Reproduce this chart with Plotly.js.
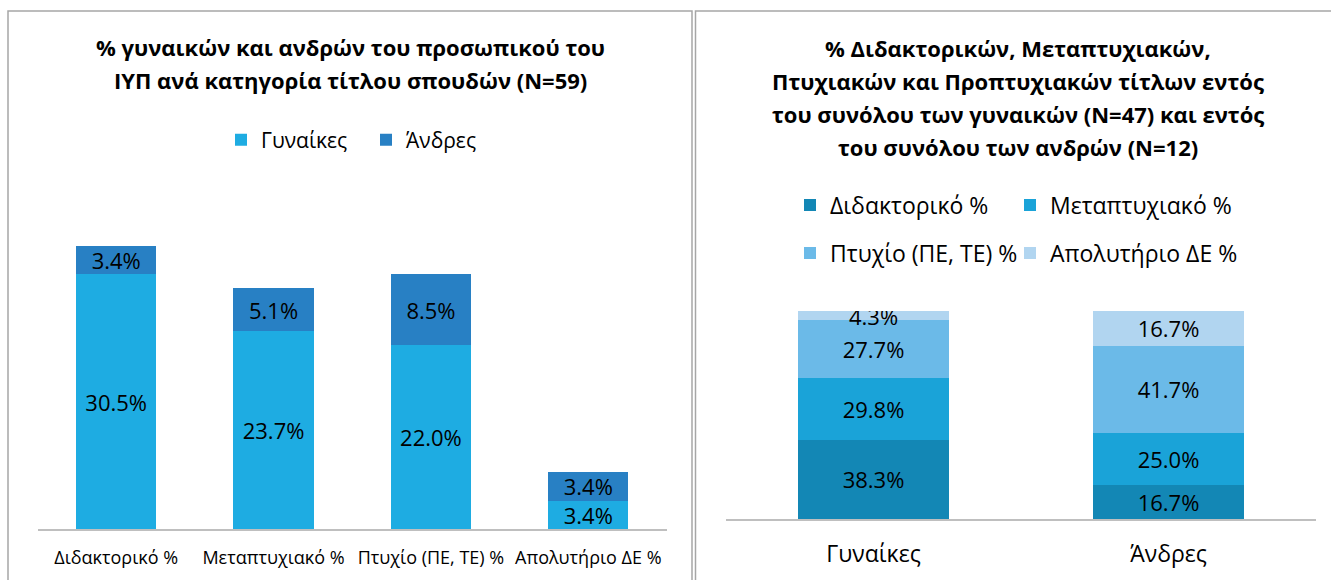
<!DOCTYPE html>
<html>
<head>
<meta charset="utf-8">
<script src="https://cdn.plot.ly/plotly-3.0.1.min.js"></script>
<style>html,body{margin:0;padding:0;background:#fff;}#chart{width:1331px;height:580px;}</style>
</head>
<body>
<div id="chart"></div>
<script>
// Left chart data
const titleCategories = ['Διδακτορικό %', 'Μεταπτυχιακό %', 'Πτυχίο (ΠΕ, ΤΕ) %', 'Απολυτήριο ΔΕ %'];
const womenShare = [30.5, 23.7, 22.0, 3.4];
const menShare = [3.4, 5.1, 8.5, 3.4];

// Right chart data
const genderGroups = ['Γυναίκες', 'Άνδρες'];
const phdPct = [38.3, 16.7];
const mscPct = [29.8, 25.0];
const bscPct = [27.7, 41.7];
const schoolPct = [4.3, 16.7];

const leftTitle = ['% γυναικών και ανδρών του προσωπικού του', 'ΙΥΠ ανά κατηγορία τίτλου σπουδών (N=59)'];
const rightTitle = ['% Διδακτορικών, Μεταπτυχιακών,', 'Πτυχιακών και Προπτυχιακών τίτλων εντός', 'του συνόλου των γυναικών (N=47) και εντός', 'του συνόλου των ανδρών (N=12)'];

const W = 1331, H = 580;
const X = p => p / W;
const Y = p => 1 - p / H;
const FONT = 'Open Sans, Noto Sans, sans-serif';

function barTrace(name, x, y, color, xa, ya, legend) {
  return {
    type: 'bar', name: name, x: x, y: y,
    xaxis: xa, yaxis: ya, legend: legend,
    marker: {color: color, line: {width: 0}},
    text: y.map(v => v.toFixed(1) + '%'),
    textposition: 'inside', insidetextanchor: 'middle',
    textangle: 0, constraintext: 'none',
    textfont: {family: FONT, size: 22, color: '#000'},
    hoverinfo: 'skip'
  };
}

const data = [
  barTrace('Γυναίκες', titleCategories, womenShare, '#1EACE2', 'x', 'y', 'legend'),
  barTrace('Άνδρες', titleCategories, menShare, '#2880C4', 'x', 'y', 'legend'),
  barTrace('Διδακτορικό %', genderGroups, phdPct, '#1387B5', 'x2', 'y2', 'legend2'),
  barTrace('Μεταπτυχιακό %', genderGroups, mscPct, '#1AA3D8', 'x2', 'y2', 'legend3'),
  barTrace('Πτυχίο (ΠΕ, ΤΕ) %', genderGroups, bscPct, '#6BBAE8', 'x2', 'y2', 'legend4'),
  barTrace('Απολυτήριο ΔΕ %', genderGroups, schoolPct, '#B1D5F0', 'x2', 'y2', 'legend5')
];

const annotations = [];
leftTitle.forEach((t, i) => annotations.push({
  text: '<b>' + t + '</b>', xref: 'paper', yref: 'paper', x: X(350), y: Y(47 + 33 * i),
  xanchor: 'center', yanchor: 'middle', showarrow: false,
  font: {family: FONT, size: 22, color: '#000'}
}));
rightTitle.forEach((t, i) => annotations.push({
  text: '<b>' + t + '</b>', xref: 'paper', yref: 'paper', x: X(1018), y: Y(48 + 33 * i),
  xanchor: 'center', yanchor: 'middle', showarrow: false,
  font: {family: FONT, size: 22, color: '#000'}
}));

const legendBase = {
  orientation: 'h', bgcolor: 'rgba(0,0,0,0)', borderwidth: 0,
  traceorder: 'normal', xanchor: 'left', yanchor: 'middle'
};
const rightLegendFont = {family: FONT, size: 23, color: '#000'};

const layout = {
  width: W, height: H,
  margin: {l: 0, r: 0, t: 0, b: 0},
  paper_bgcolor: '#fff', plot_bgcolor: 'rgba(0,0,0,0)',
  barmode: 'stack', bargap: 0.49,
  font: {family: FONT, color: '#000'},
  xaxis: {
    domain: [X(37.5), X(667)], anchor: 'y', showline: true, linecolor: '#BFBFBF', linewidth: 1.5,
    ticks: 'outside', ticklen: 12, tickcolor: 'rgba(0,0,0,0)', showgrid: false, zeroline: false,
    tickfont: {family: FONT, size: 18, color: '#000'}, fixedrange: true
  },
  yaxis: {
    domain: [Y(529), Y(194.6)], anchor: 'x', range: [0, 40], visible: false, fixedrange: true
  },
  xaxis2: {
    domain: [X(726), X(1316)], anchor: 'y2', showline: true, linecolor: '#BFBFBF', linewidth: 1.5,
    ticks: 'outside', ticklen: 14, tickcolor: 'rgba(0,0,0,0)', showgrid: false, zeroline: false,
    tickfont: {family: FONT, size: 23, color: '#000'}, fixedrange: true
  },
  yaxis2: {
    domain: [Y(519.3), Y(311.1)], anchor: 'x2', range: [0, 100.1], visible: false, fixedrange: true
  },
  legend: Object.assign({}, legendBase, {x: X(221), y: Y(140), entrywidth: 100,
    font: {family: FONT, size: 21, color: '#000'}}),
  legend2: Object.assign({}, legendBase, {x: X(790), y: Y(205), font: rightLegendFont}),
  legend3: Object.assign({}, legendBase, {x: X(1010), y: Y(205), font: rightLegendFont}),
  legend4: Object.assign({}, legendBase, {x: X(790), y: Y(253), font: rightLegendFont}),
  legend5: Object.assign({}, legendBase, {x: X(1010), y: Y(253), font: rightLegendFont}),
  annotations: annotations,
  shapes: [
    {type: 'rect', xref: 'paper', yref: 'paper', x0: X(8), x1: X(692), y0: Y(600), y1: Y(11),
     line: {color: '#A6A6A6', width: 1.5}, fillcolor: 'rgba(0,0,0,0)'},
    {type: 'rect', xref: 'paper', yref: 'paper', x0: X(695.5), x1: X(1345), y0: Y(600), y1: Y(11),
     line: {color: '#A6A6A6', width: 1.5}, fillcolor: 'rgba(0,0,0,0)'}
  ]
};

Plotly.newPlot('chart', data, layout, {displayModeBar: false, staticPlot: true});
</script>
</body>
</html>
